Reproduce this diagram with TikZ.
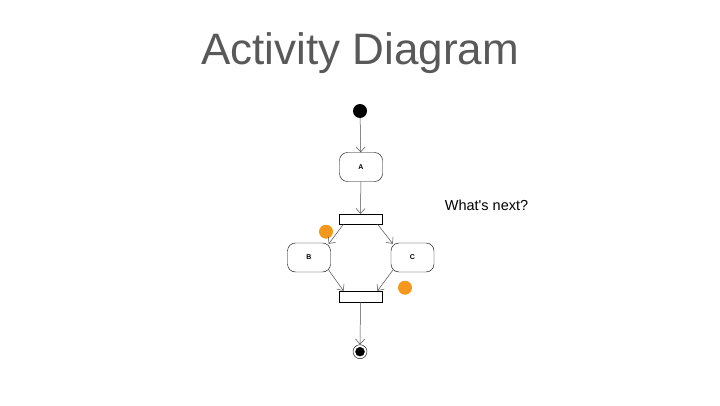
\documentclass[tikz,border=0pt]{standalone}
\usepackage{fontspec}
\setmainfont{Liberation Sans}
\usetikzlibrary{arrows.meta}

\definecolor{titlegray}{RGB}{89,89,89}
\definecolor{dotorange}{RGB}{243,152,29}

\tikzset{
  action/.style={draw, rounded corners=8pt, minimum width=43pt, minimum height=29pt,
    inner sep=0pt, font=\fontsize{7}{8}\selectfont\bfseries},
  bar/.style={draw, minimum width=43pt, minimum height=10pt, inner sep=0pt},
  flow/.style={draw=black!70, line width=0.5pt, -{Straight Barb[length=5pt,width=9pt]}},
  marker/.style={circle, fill=dotorange, minimum size=14pt, inner sep=0pt},
}

\begin{document}
\begin{tikzpicture}[x=1pt, y=1pt]
  \useasboundingbox (0.0, 0.0) rectangle (720.0, 405.0);
  \node[text=titlegray, font=\fontsize{44}{48}\selectfont, anchor=base] (title) at (360.0, 340.0) {Activity Diagram};
  \node[font=\fontsize{14.5}{16}\selectfont] (note) at (486.5, 200.0) {What\textquotesingle s next?};

  \node[circle, fill=black, minimum size=14pt, inner sep=0pt] (start) at (360.0, 294.0) {};
  \node[action] (A) at (361.0, 238.0) {A};
  \node[bar] (fork) at (360.5, 186.0) {};
  \node[action] (B) at (309.0, 147.5) {B};
  \node[action] (C) at (412.5, 147.5) {C};
  \node[bar, minimum height=11pt] (join) at (360.5, 108.5) {};
  \node[circle, draw, minimum size=14pt, inner sep=0pt] (end) at (360.0, 53.3) {};
  \filldraw (end.center) circle (4.5pt);

  \node[marker] (dot1) at (326.0, 173.3) {};
  \node[marker] (dot2) at (405.0, 117.3) {};

  \draw[flow] (start) -- (A);
  \draw[flow] (A) -- (fork);
  \draw[flow] ([xshift=-17pt]fork.south) -- ([xshift=-2pt,yshift=-1pt]B.north east);
  \draw[flow] ([xshift=17pt]fork.south) -- ([xshift=2pt,yshift=-1pt]C.north west);
  \draw[flow] ([xshift=-2pt,yshift=2pt]B.south east) -- ([xshift=-17pt]join.north);
  \draw[flow] ([xshift=2pt,yshift=2pt]C.south west) -- ([xshift=17pt]join.north);
  \draw[flow] (join) -- (end);
\end{tikzpicture}
\end{document}
